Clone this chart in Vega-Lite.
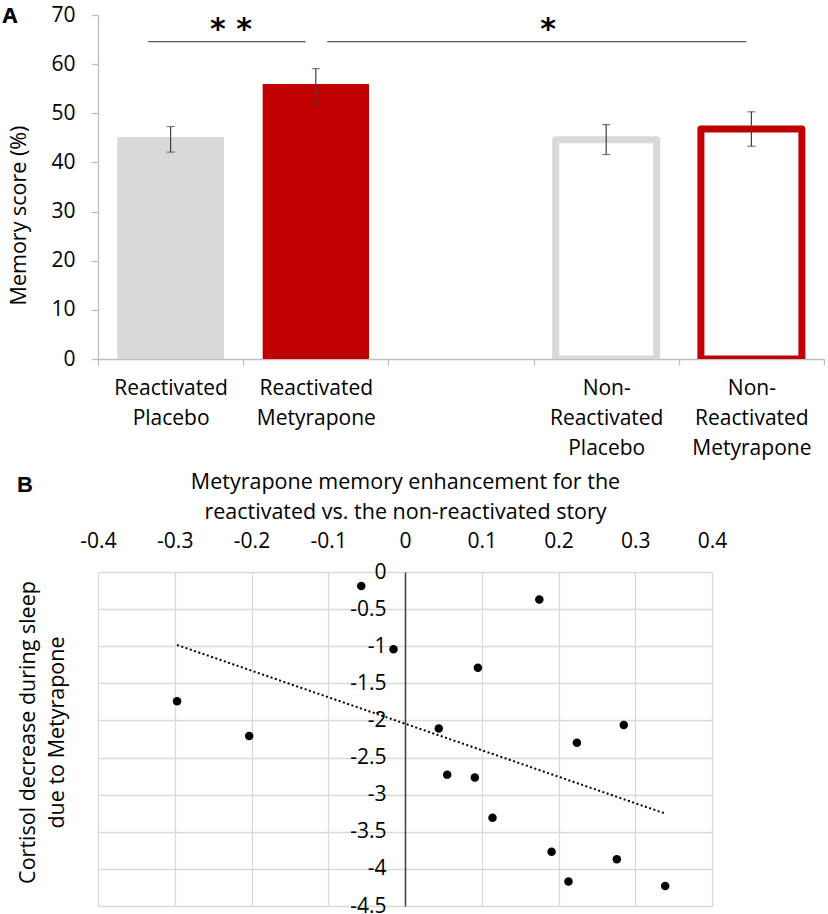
{
  "$schema": "https://vega.github.io/schema/vega-lite/v6.json",
  "background": "white",
  "padding": {"left": 2, "top": 4, "right": 0, "bottom": 0},
  "spacing": 13,
  "config": {
    "font": "Open Sans",
    "view": {"stroke": null},
    "axis": {"labelColor": "#000000", "titleColor": "#000000", "labelFont": "Open Sans", "titleFont": "Open Sans", "titleFontWeight": "normal", "labelOverlap": false, "labelFlush": false}
  },
  "vconcat": [
    {
      "width": 726,
      "height": 344,
      "layer": [
        {
          "data": {"values": [
            {"group": "Reactivated Placebo", "reactivation": "Reactivated", "drug": "Placebo", "score": 45.2, "lo": 42.1, "hi": 47.3},
            {"group": "Reactivated Metyrapone", "reactivation": "Reactivated", "drug": "Metyrapone", "score": 56.0, "lo": 52.1, "hi": 59.1},
            {"group": "Non-Reactivated Placebo", "reactivation": "Non-Reactivated", "drug": "Placebo", "score": 44.6, "lo": 41.6, "hi": 47.7},
            {"group": "Non-Reactivated Metyrapone", "reactivation": "Non-Reactivated", "drug": "Metyrapone", "score": 46.8, "lo": 43.3, "hi": 50.3}
          ]},
          "encoding": {
            "x": {
              "field": "group", "type": "nominal",
              "scale": {"domain": ["Reactivated Placebo", "Reactivated Metyrapone", " ", "Non-Reactivated Placebo", "Non-Reactivated Metyrapone"], "paddingInner": 0, "paddingOuter": 0},
              "axis": {"title": null, "labelAngle": 0, "labelExpr": "split(replace(datum.label, 'Non-', 'Non- '), ' ')", "labelBaseline": "top", "labelLineHeight": 30, "labelFontSize": 21, "labelPadding": 12, "tickSize": 6, "tickColor": "#BFBFBF", "tickWidth": 1.3, "tickBand": "extent", "domainColor": "#BFBFBF", "domainWidth": 1.3, "labelOverlap": false}
            }
          },
          "layer": [
            {
              "transform": [{"filter": "datum.reactivation == 'Reactivated'"}],
              "mark": {"type": "bar", "size": 107, "cornerRadius": 1.5},
              "encoding": {
                "y": {"field": "score", "type": "quantitative", "scale": {"domain": [0, 70], "nice": false},
                  "axis": {"values": [0, 10, 20, 30, 40, 50, 60, 70], "grid": false, "domainColor": "#BFBFBF", "domainWidth": 1.3, "tickColor": "#BFBFBF", "tickWidth": 1.3, "tickSize": 7, "labelFontSize": 21, "labelPadding": 16, "labelOverlap": false, "title": "Memory score (%)", "titleFontSize": 21.5, "titleX": -68, "titleY": 200}},
                "color": {"field": "drug", "type": "nominal", "scale": {"domain": ["Placebo", "Metyrapone"], "range": ["#D9D9D9", "#C00000"]}, "legend": null}
              }
            },
            {
              "transform": [{"filter": "datum.reactivation == 'Non-Reactivated'"}],
              "mark": {"type": "bar", "size": 101, "fill": "white", "strokeWidth": 7, "strokeJoin": "round", "clip": true},
              "encoding": {
                "y": {"field": "score", "type": "quantitative"},
                "stroke": {"field": "drug", "type": "nominal", "scale": {"domain": ["Placebo", "Metyrapone"], "range": ["#D9D9D9", "#C00000"]}, "legend": null}
              }
            },
            {
              "mark": {"type": "rule", "color": "#404040", "strokeWidth": 1.2},
              "encoding": {"y": {"field": "lo", "type": "quantitative"}, "y2": {"field": "hi"}}
            },
            {
              "mark": {"type": "tick", "color": "#404040", "thickness": 1.2, "size": 8},
              "encoding": {"y": {"field": "lo", "type": "quantitative"}}
            },
            {
              "mark": {"type": "tick", "color": "#404040", "thickness": 1.2, "size": 8},
              "encoding": {"y": {"field": "hi", "type": "quantitative"}}
            }
          ]
        },
        {
          "data": {"values": [
            {"x_start": 0.346, "x_end": 1.43, "bar_y": 64.6, "sig": "* *", "star_x": 0.916, "star_y": 68.0},
            {"x_start": 1.579, "x_end": 4.465, "bar_y": 64.6, "sig": "*", "star_x": 3.1, "star_y": 68.0}
          ]},
          "layer": [
            {
              "mark": {"type": "rule", "color": "#595959", "strokeWidth": 1.3},
              "encoding": {
                "x": {"field": "x_start", "type": "quantitative", "scale": {"domain": [0, 5], "nice": false, "zero": false}, "axis": null},
                "x2": {"field": "x_end"},
                "y": {"field": "bar_y", "type": "quantitative", "scale": {"domain": [0, 70], "nice": false}}
              }
            },
            {
              "mark": {"type": "text", "font": "DejaVu Sans", "fontWeight": "bold", "fontSize": 30, "baseline": "middle", "dy": 5},
              "encoding": {
                "x": {"field": "star_x", "type": "quantitative"},
                "y": {"field": "star_y", "type": "quantitative"},
                "text": {"field": "sig"}
              }
            },
            {
              "mark": {"type": "text", "font": "Liberation Sans", "fontWeight": "bold", "fontSize": 22, "baseline": "middle", "align": "center"},
              "encoding": {
                "x": {"datum": -0.606, "type": "quantitative"},
                "y": {"datum": 69.8, "type": "quantitative"},
                "text": {"value": "A"}
              }
            }
          ]
        }
      ],
      "resolve": {"scale": {"x": "independent"}}
    },
    {
      "width": 614,
      "height": 334,
      "title": {"text": "B", "anchor": "start", "frame": "bounds", "orient": "top", "font": "Liberation Sans", "fontSize": 22, "fontWeight": "bold", "color": "#000000", "offset": -26, "dx": 0},
      "data": {"values": [
        {"enhancement": -0.057, "cortisol": -0.19},
        {"enhancement": -0.015, "cortisol": -1.04},
        {"enhancement": -0.297, "cortisol": -1.74},
        {"enhancement": -0.203, "cortisol": -2.21},
        {"enhancement": 0.044, "cortisol": -2.11},
        {"enhancement": 0.055, "cortisol": -2.73},
        {"enhancement": 0.175, "cortisol": -0.37},
        {"enhancement": 0.095, "cortisol": -1.29},
        {"enhancement": 0.285, "cortisol": -2.06},
        {"enhancement": 0.224, "cortisol": -2.30},
        {"enhancement": 0.091, "cortisol": -2.77},
        {"enhancement": 0.114, "cortisol": -3.31},
        {"enhancement": 0.191, "cortisol": -3.77},
        {"enhancement": 0.276, "cortisol": -3.87},
        {"enhancement": 0.213, "cortisol": -4.17},
        {"enhancement": 0.339, "cortisol": -4.23}
      ]},
      "encoding": {
        "x": {"field": "enhancement", "type": "quantitative",
          "scale": {"domain": [-0.4, 0.4], "nice": false, "zero": false},
          "axis": {"orient": "top", "values": [-0.4, -0.3, -0.2, -0.1, 0, 0.1, 0.2, 0.3, 0.4], "labelExpr": "'' + datum.value", "domain": false, "ticks": false, "grid": true, "gridColor": "#D9D9D9", "gridWidth": 1.3, "labelFontSize": 21, "labelPadding": 21, "labelOverlap": false, "title": ["Metyrapone memory enhancement for the", "reactivated vs. the non-reactivated story"], "titleFontSize": 21.5, "titleLineHeight": 30, "titlePadding": 7}},
        "y": {"field": "cortisol", "type": "quantitative",
          "scale": {"domain": [-4.5, 0], "nice": false, "zero": false},
          "axis": {"values": [0, -0.5, -1, -1.5, -2, -2.5, -3, -3.5, -4, -4.5], "labelExpr": "'' + datum.value", "offset": -307, "domainColor": "#404040", "domainWidth": 1.5, "ticks": false, "labelPadding": 19, "labelFontSize": 21, "labelOverlap": false, "grid": true, "gridColor": "#D9D9D9", "gridWidth": 1.3, "title": ["Cortisol decrease during sleep", "due to Metyrapone"], "titleFontSize": 21.5, "titleLineHeight": 29, "titleX": -366, "titleY": 160}}
      },
      "layer": [
        {
          "transform": [{"regression": "cortisol", "on": "enhancement"}],
          "mark": {"type": "line", "color": "black", "strokeWidth": 2, "strokeDash": [2, 2.5]}
        },
        {
          "mark": {"type": "circle", "size": 72, "color": "black", "opacity": 1}
        }
      ]
    }
  ]
}
